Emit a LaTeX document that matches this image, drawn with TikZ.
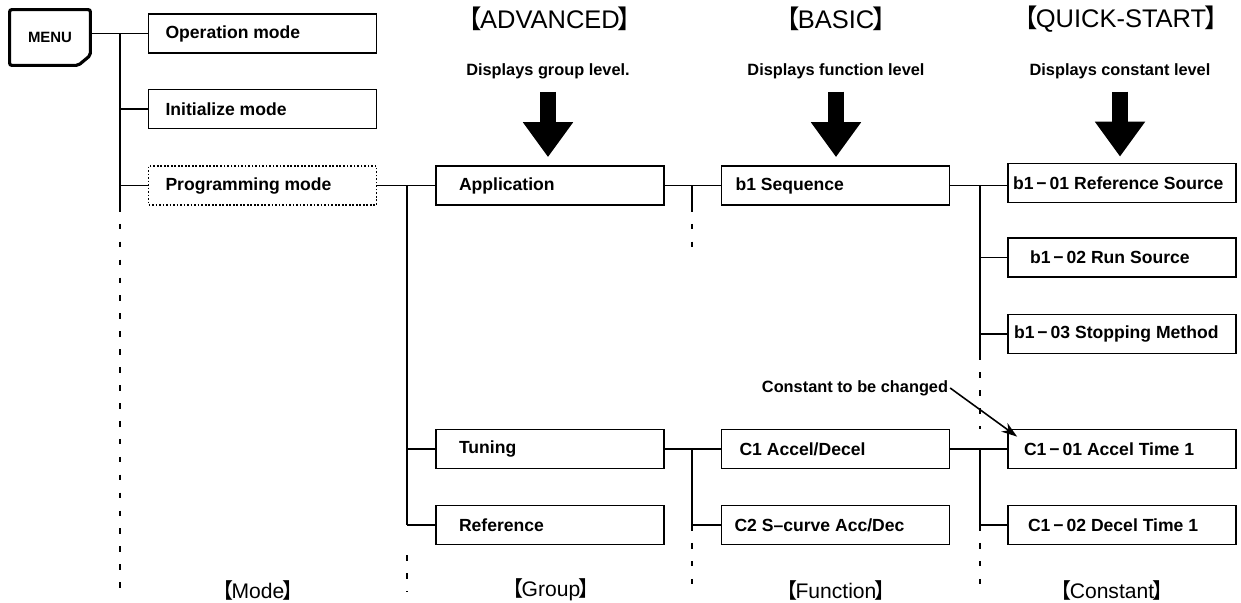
\documentclass[tikz,border=0pt]{standalone}
\usepackage{fontspec}
\setmainfont{Liberation Sans}
\newfontfamily\cjk{Noto Sans CJK JP}
\usetikzlibrary{arrows.meta,positioning}

\newcommand{\lbrk}{{\cjk 【}\kern-0.08em}
\newcommand{\rbrk}{\kern-0.08em{\cjk 】}}

\begin{document}
\begin{tikzpicture}[x=0.02cm,y=-0.02cm]
  \tikzset{
    box/.style={draw=black, line width=1pt, inner xsep=0pt, minimum height=0.78cm,
      font=\fontsize{10}{12}\bfseries\selectfont,
      execute at begin node={\hbox to 4.56cm\bgroup\hskip#1\relax},
      execute at end node={\hfil\egroup}},
    box/.default=0.34cm,
    wire/.style={black, line width=1pt},
    trail/.style={black, line width=1.1pt, dash pattern=on 3.2pt off 7pt},
    head/.style={font=\fontsize{14.5}{17}\selectfont, inner sep=1pt},
    note/.style={font=\fontsize{9.3}{11}\bfseries\selectfont, inner sep=1pt},
    foot/.style={font=\fontsize{12}{14}\selectfont, inner sep=1pt},
    bigarrow/.style={black, line width=0.32cm, -{Triangle[length=0.7cm,width=0.96cm]}},
    pointer/.style={black, line width=0.9pt, -{Stealth[length=9pt,width=6pt]}}
  }
  \useasboundingbox (0,0) rectangle (1241,602);

  % MENU key
  \node[minimum width=1.6cm, minimum height=1.1cm, inner sep=0pt,
        font=\fontsize{8.5}{10}\bfseries\selectfont] (menu) at (50,37.5) {MENU};
  \draw[line width=1.8pt, rounded corners=1.2pt]
    (menu.north west) -- (menu.north east) -- ([yshift=0.2cm]menu.south east)
    -- ([xshift=-0.24cm]menu.south east) -- (menu.south west) -- cycle;

  % Mode level
  \node[box] (opmode) at (262.5,33.5) {Operation mode};
  \node[box] (initmode) at (262.5,109) {Initialize mode};
  \node[box, densely dotted] (progmode) at (262.5,185.5) {Programming mode};

  % Group level
  \node[box=0.46cm] (app) at (550,185.5) {Application};
  \node[box=0.46cm] (tune) at (550,449) {Tuning};
  \node[box=0.46cm] (ref) at (550,525) {Reference};

  % Function level
  \node[box=0.28cm] (bseq) at (835.5,185.5) {b1 Sequence};
  \node[box=0.36cm] (cacc) at (835.5,449) {C1 Accel/Decel};
  \node[box=0.26cm] (cscurve) at (835.5,525) {C2 S\textendash curve Acc/Dec};

  % Constant level
  \node[box=0.1cm] (b101) at (1122,183) {b1\,\textminus\,01 Reference Source};
  \node[box=0.44cm] (b102) at (1122,257.5) {b1\,\textminus\,02 Run Source};
  \node[box=0.12cm] (b103) at (1122,334) {b1\,\textminus\,03 Stopping Method};
  \node[box=0.32cm] (c101) at (1122,449) {C1\,\textminus\,01 Accel Time 1};
  \node[box=0.4cm] (c102) at (1122,525) {C1\,\textminus\,02 Decel Time 1};

  % bus positions
  \coordinate (busM) at (120,0);
  \coordinate (busG) at (407,0);
  \coordinate (busF) at (692,0);
  \coordinate (busC) at (980,0);
  \coordinate (floor) at (0,592);

  % Mode tree
  \draw[wire] (opmode.west -| menu.east) -- (opmode.west);
  \draw[wire] (opmode.west -| busM) -- (progmode.south -| busM);
  \draw[wire] (initmode.west -| busM) -- (initmode.west);
  \draw[wire] (progmode.west -| busM) -- (progmode.west);
  \draw[trail] (progmode.south -| busM) -- (floor -| busM);

  % Group tree
  \draw[wire] (progmode.east) -- (app.west);
  \draw[wire] (app.west -| busG) -- (ref.west -| busG);
  \draw[wire] (tune.west -| busG) -- (tune.west);
  \draw[wire] (ref.west -| busG) -- (ref.west);
  \draw[trail] ([yshift=-0.2cm]ref.south -| busG) -- (floor -| busG);

  % Function tree
  \draw[wire] (app.east) -- (bseq.west);
  \draw[wire] (bseq.west -| busF) -- (bseq.south -| busF);
  \draw[trail] (bseq.south -| busF) -- ([yshift=-1cm]bseq.south -| busF);
  \draw[wire] (tune.east) -- (cacc.west);
  \draw[wire] (cacc.west -| busF) -- (cscurve.west -| busF);
  \draw[wire] (cscurve.west -| busF) -- (cscurve.west);
  \draw[trail] (cscurve.west -| busF) -- (floor -| busF);

  % Constant tree
  \draw[wire] (bseq.east) -- (bseq.east -| b101.west);
  \draw[wire] (bseq.east -| busC) -- (b103.south -| busC);
  \draw[wire] (b102.west -| busC) -- (b102.west);
  \draw[wire] (b103.west -| busC) -- (b103.west);
  \draw[trail] (b103.south -| busC) -- (c101.north -| busC);
  \draw[wire] (cacc.east) -- (c101.west);
  \draw[wire] (c101.west -| busC) -- (c102.west -| busC);
  \draw[wire] (c102.west -| busC) -- (c102.west);
  \draw[trail] (c102.west -| busC) -- (floor -| busC);

  % Headings and display arrows
  \node[head] (advhead) at (550,19) {\lbrk ADVANCED\rbrk};
  \node[head] (bashead) at (836,19) {\lbrk BASIC\rbrk};
  \node[head] (qshead) at (1121,19) {\lbrk QUICK-START\rbrk};
  \node[note] (advnote) at (548,71) {Displays group level.};
  \node[note] (basnote) at (836,71) {Displays function level};
  \node[note] (qsnote) at (1120,71) {Displays constant level};
  \draw[bigarrow, shorten <=0.22cm, shorten >=0.16cm] (advnote.south) -- (advnote.south |- app.north);
  \draw[bigarrow, shorten <=0.22cm, shorten >=0.16cm] (basnote.south) -- (basnote.south |- bseq.north);
  \draw[bigarrow, shorten <=0.22cm, shorten >=0.12cm] (qsnote.south) -- (qsnote.south |- b101.north);

  % Marked constant
  \node[note] (chgnote) at (855,388) {Constant to be changed};
  \draw[pointer] (chgnote.east) -- ([shift={(0.2cm,-0.16cm)}]c101.north west);

  % Level names
  \node[foot] (modefoot) at (258,590) {\lbrk Mode\rbrk};
  \node[foot] (grpfoot) at (551,590) {\lbrk Group\rbrk};
  \node[foot] (funfoot) at (836,590) {\lbrk Function\rbrk};
  \node[foot] (cstfoot) at (1112,590) {\lbrk Constant\rbrk};
\end{tikzpicture}
\end{document}
